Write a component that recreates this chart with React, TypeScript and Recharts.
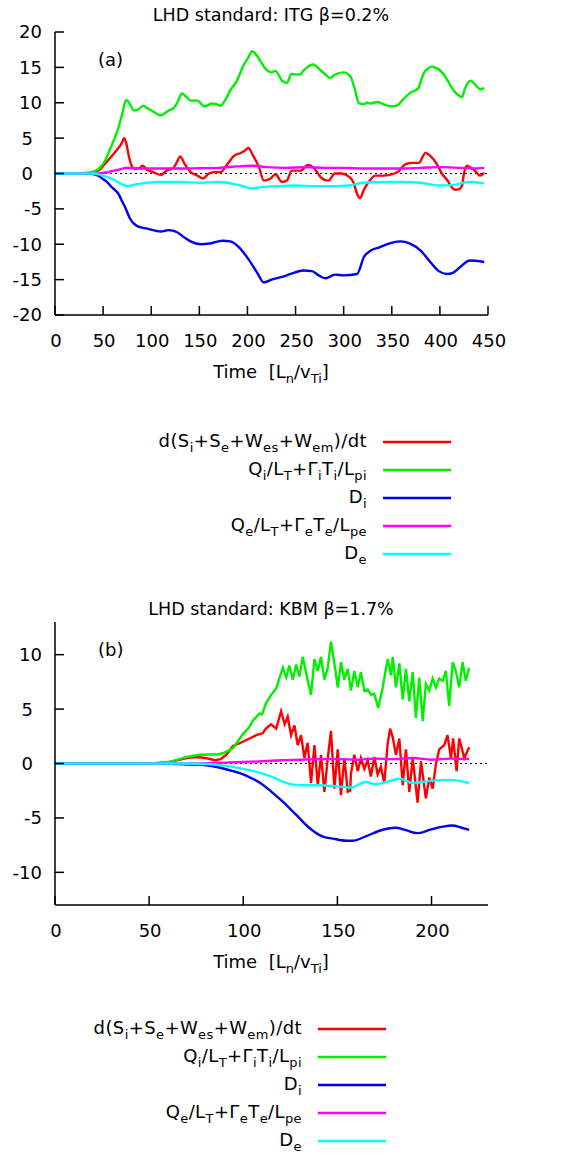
import React from 'react';
import { LineChart, Line, XAxis, YAxis, ReferenceLine } from 'recharts';

const FONT = '"DejaVu Sans", sans-serif';

// ---------- texts ----------
const titleA = 'LHD standard: ITG β=0.2%';
const titleB = 'LHD standard: KBM β=1.7%';
const panelTagA = '(a)';
const panelTagB = '(b)';
const xLabel = 'Time  [L_{n}/v_{Ti}]';
const legendLabels = [
  'd(S_{i}+S_{e}+W_{es}+W_{em})/dt',
  'Q_{i}/L_{T}+Γ_{i}T_{i}/L_{pi}',
  'D_{i}',
  'Q_{e}/L_{T}+Γ_{e}T_{e}/L_{pe}',
  'D_{e}',
];
const seriesColors = ['#ff0000', '#00f000', '#0000f0', '#ff00ff', '#00ffff'];

// ---------- panel (a) axes ----------
const xDomainA = [0, 450];
const yDomainA = [-20, 20];
const xTicksA = [0, 50, 100, 150, 200, 250, 300, 350, 400, 450];
const yTicksA = [-20, -15, -10, -5, 0, 5, 10, 15, 20];

// ---------- panel (a) series ----------
const aRedT = [0, 30, 40, 47, 52, 58, 64, 69, 72, 74, 77, 80, 82, 87, 91, 96, 102, 110, 116, 123, 127, 130, 135, 141, 148, 154, 160, 165, 172, 179, 186, 193, 197, 201, 206, 212, 217, 224, 229, 236, 241, 246, 255, 263, 269, 276, 284, 291, 298, 305, 310, 314, 317, 321, 326, 333, 341, 348, 357, 364, 372, 378, 385, 390, 397, 402, 408, 412, 416, 420, 423, 425, 428, 431, 435, 442, 446];
const aRedV = [0, 0, 0.2, 0.6, 1.4, 2.3, 3.3, 4.2, 5.0, 4.3, 2.3, 1.0, 0.7, 0.7, 1.1, 0.5, 0.2, -0.2, 0.4, 0.8, 1.7, 2.4, 1.3, 0.2, -0.3, -0.7, 0, 0.2, 0.2, 1.3, 2.5, 2.9, 3.2, 3.6, 2.5, 0.9, -1.0, -0.7, -0.1, -1.2, -1.0, 0.4, 0.4, 1.2, 0.8, -0.5, -1.0, 0, 0, -0.4, -1.2, -2.9, -3.5, -2.3, -1.2, -0.3, -0.3, -0.2, 0.3, 1.3, 1.5, 1.5, 2.9, 2.5, 1.3, 0, -1.0, -1.9, -2.3, -2.2, -1.7, 0, 1.1, 0.9, 0.6, -0.3, 0.1];

const aGreenT = [0, 20, 35, 45, 52, 58, 62, 66, 70, 74, 77, 82, 86, 92, 95, 99, 104, 110, 114, 118, 123, 127, 132, 136, 141, 148, 155, 158, 163, 168, 172, 177, 182, 189, 196, 201, 205, 209, 213, 220, 225, 229, 236, 241, 246, 250, 255, 258, 262, 268, 276, 281, 286, 290, 293, 300, 307, 311, 316, 321, 324, 328, 335, 341, 349, 355, 362, 369, 378, 380, 383, 388, 392, 396, 400, 404, 409, 413, 418, 423, 426, 432, 437, 442, 446];
const aGreenV = [0, 0, 0.1, 0.6, 1.8, 3.7, 5.0, 6.5, 8.5, 10.4, 10.0, 8.9, 9.0, 9.6, 9.3, 9.0, 8.6, 8.2, 8.5, 8.9, 9.2, 10.0, 11.3, 10.9, 10.3, 10.3, 9.5, 9.6, 9.9, 9.8, 9.6, 10.4, 11.7, 13.1, 15.3, 16.4, 17.3, 16.8, 16.0, 14.6, 14.3, 14.5, 13.1, 12.8, 14.1, 14.0, 14.0, 14.5, 15.0, 15.4, 14.6, 14.0, 13.5, 13.9, 14.1, 14.3, 13.7, 12.2, 9.9, 9.8, 10.0, 9.9, 10.1, 9.8, 9.5, 9.6, 10.5, 11.4, 12.1, 13.0, 14.1, 14.9, 15.1, 14.9, 14.6, 14.0, 12.9, 12.0, 11.2, 10.8, 12.0, 13.1, 12.5, 11.9, 12.1];

const aBlueT = [0, 35, 45, 50, 54, 58, 62, 66, 70, 73, 78, 85, 96, 110, 118, 127, 134, 141, 151, 161, 174, 182, 191, 201, 210, 217, 225, 236, 245, 258, 267, 274, 281, 291, 300, 314, 321, 328, 338, 347, 359, 369, 380, 390, 399, 407, 414, 423, 431, 446];
const aBlueV = [0, 0, -0.3, -0.8, -1.2, -1.8, -2.3, -2.9, -4.0, -4.8, -6.4, -7.4, -7.8, -8.2, -8.0, -8.3, -9.0, -9.6, -10.0, -9.9, -9.5, -9.6, -10.4, -12.1, -14.0, -15.4, -15.0, -14.6, -14.2, -13.7, -13.8, -14.4, -14.8, -14.3, -14.4, -14.2, -11.8, -10.9, -10.4, -9.9, -9.6, -9.9, -10.9, -12.5, -13.8, -14.2, -14.0, -13.0, -12.3, -12.5];

const aMagentaT = [0, 45, 55, 65, 75, 90, 110, 130, 150, 170, 190, 205, 220, 240, 260, 280, 300, 320, 340, 360, 380, 400, 420, 435, 446];
const aMagentaV = [0, 0, 0.2, 0.5, 0.8, 0.7, 0.7, 0.7, 0.75, 0.8, 1.0, 1.1, 0.9, 0.8, 0.9, 0.8, 0.8, 0.7, 0.7, 0.7, 0.8, 0.9, 0.8, 0.7, 0.8];

const aCyanT = [0, 40, 50, 60, 68, 75, 82, 95, 110, 130, 150, 170, 190, 205, 215, 230, 250, 270, 290, 305, 320, 340, 360, 380, 400, 415, 430, 446];
const aCyanV = [0, 0, -0.3, -0.8, -1.4, -1.8, -1.6, -1.3, -1.2, -1.2, -1.3, -1.2, -1.6, -2.1, -1.9, -1.8, -1.7, -1.8, -1.8, -1.7, -1.3, -1.2, -1.2, -1.3, -1.7, -1.6, -1.2, -1.4];

// ---------- panel (b) axes ----------
const xDomainB = [0, 230];
const yDomainB = [-13, 13];
const xTicksB = [0, 50, 100, 150, 200];
const yTicksB = [-10, -5, 0, 5, 10];

// ---------- panel (b) series ----------
const bRedT = [0, 50, 60, 70, 75, 80, 85, 88, 91, 94.5, 99.8, 103.3, 107, 110.4, 112, 114.8, 117.5, 120.1, 122, 123.6, 125.4, 127.2, 128.9, 130.7, 132.5, 134.2, 136, 137.8, 139.6, 141.3, 143.1, 144.9, 146.6, 148.4, 150.2, 151.9, 153.7, 155.5, 156.8, 157.2, 159, 160.8, 162.5, 164.3, 166.1, 167.8, 169.6, 171.4, 173.1, 174.9, 176.7, 178, 179.4, 181.1, 182.9, 184.7, 186.4, 188.2, 190, 192.6, 194.4, 197, 198.8, 200.6, 202.3, 204.1, 206.8, 208.5, 210.3, 211.5, 213.3, 214.7, 217.4, 220];
const bRedV = [0, 0, 0.1, 0.5, 0.6, 0.5, 0.3, 0.4, 0.8, 1.6, 2.0, 2.3, 2.6, 2.8, 3.2, 3.6, 3.2, 4.8, 3.6, 4.3, 2.6, 3.5, 1.7, 2.6, 0.5, 1.9, -1.8, 1.7, -2.0, 0.8, -2.6, 0.5, 3.0, -2.3, 1.3, -2.9, 0.5, -2.6, -2.5, -0.9, 0.8, -0.7, 0.5, -0.5, 0.3, -1.2, 0.6, -1.0, -0.3, -1.8, 1.8, 3.2, 2.4, 0.8, 2.3, -2.0, 1.3, -2.6, 0.5, -3.6, 0.2, -3.2, -1.3, -2.3, -0.1, 1.3, 1.7, 2.6, 0.5, 2.3, -0.7, 2.3, 0.5, 1.5];

const bGreenT = [0, 50, 55, 62, 70, 77, 87, 90, 94.5, 99.8, 103, 105, 108.6, 110, 112.2, 114.8, 117.5, 121, 122.8, 124.5, 126.3, 128.1, 129.8, 131.6, 133.4, 136, 137.8, 139.6, 141.3, 143.1, 144.9, 146.6, 148.4, 150.2, 151.9, 153.7, 155.5, 157.2, 159, 160.8, 162.5, 164.3, 166.1, 167.8, 169.6, 171.7, 174.1, 176.7, 178.5, 179.4, 181.1, 182.9, 184.7, 186.4, 188.2, 190, 191.7, 193.5, 195.3, 197, 198.8, 200.6, 202.3, 204.1, 205.9, 207.6, 209.4, 211.2, 212.9, 214.7, 216.5, 218.2, 220];
const bGreenV = [0, 0, 0.05, 0.2, 0.6, 0.8, 0.85, 1.0, 1.4, 2.7, 3.3, 3.9, 4.6, 4.5, 5.6, 6.3, 6.9, 8.8, 7.9, 9.0, 7.7, 9.1, 8.0, 9.8, 8.3, 6.3, 9.6, 8.5, 9.8, 7.7, 8.8, 11.2, 9.2, 7.0, 9.3, 7.7, 8.7, 6.7, 8.5, 7.0, 8.4, 6.7, 6.8, 6.3, 6.4, 5.1, 7.0, 9.6, 8.1, 9.8, 7.0, 9.2, 5.9, 8.7, 5.7, 8.4, 4.2, 7.9, 3.9, 7.3, 6.7, 7.8, 7.0, 7.8, 7.6, 8.5, 5.3, 9.3, 8.5, 7.0, 9.3, 7.6, 8.8];

const bBlueT = [0, 55, 65, 75, 84, 94.5, 100, 105, 110, 115, 121, 128, 135, 142, 147.5, 155, 158, 165, 172, 181, 186, 192.5, 199, 206, 211, 216, 220];
const bBlueV = [0, 0, -0.05, -0.1, -0.25, -0.7, -1.0, -1.4, -1.9, -2.6, -3.5, -4.7, -5.9, -6.7, -6.9, -7.1, -7.1, -6.7, -6.2, -5.9, -6.1, -6.4, -6.1, -5.8, -5.7, -5.9, -6.1];

const bMagentaT = [0, 70, 85, 100, 110, 120, 130, 140, 150, 160, 170, 180, 190, 200, 210, 220];
const bMagentaV = [0, 0, 0.05, 0.15, 0.2, 0.3, 0.35, 0.4, 0.4, 0.35, 0.45, 0.4, 0.5, 0.35, 0.45, 0.4];

const bCyanT = [0, 70, 80, 90, 100, 110, 115, 120, 125, 130, 140, 150, 157, 165, 170, 178, 183, 190, 200, 210, 220];
const bCyanV = [0, 0, -0.05, -0.2, -0.5, -0.9, -1.2, -1.6, -1.9, -2.0, -2.0, -2.1, -2.2, -1.7, -1.9, -1.6, -1.4, -1.8, -1.6, -1.5, -1.8];

// ---------- helpers ----------
const zip = (ts: number[], vs: number[]) => ts.map((t, i) => ({ t, v: vs[i] }));

type Seg = { text: string; sub: boolean };
function parseRich(s: string): Seg[] {
  const out: Seg[] = [];
  const re = /_\{([^}]*)\}/g;
  let last = 0;
  let m: RegExpExecArray | null;
  while ((m = re.exec(s)) !== null) {
    if (m.index > last) out.push({ text: s.slice(last, m.index), sub: false });
    out.push({ text: m[1], sub: true });
    last = m.index + m[0].length;
  }
  if (last < s.length) out.push({ text: s.slice(last), sub: false });
  return out;
}

function RichText(props: { x: number; y: number; text: string; size: number; anchor: 'start' | 'middle' | 'end'; spacing?: number }) {
  const segs = parseRich(props.text);
  const subSize = Math.round(props.size * 0.74);
  const drop = Math.round(props.size * 0.3);
  let cur = 0;
  return (
    <text
      x={props.x}
      y={props.y}
      textAnchor={props.anchor}
      fontFamily={FONT}
      fontSize={props.size}
      fill="#000"
      letterSpacing={props.spacing || 0}
      style={{ whiteSpace: 'pre' }}
    >
      {segs.map((sg, i) => {
        const target = sg.sub ? drop : 0;
        const dy = target - cur;
        cur = target;
        return (
          <tspan key={i} dy={dy} fontSize={sg.sub ? subSize : props.size}>
            {sg.text}
          </tspan>
        );
      })}
    </text>
  );
}

const TICK = 9;
const TICK_FONT = 18;

function LeftTick(p: any) {
  const s = String(p.payload.value);
  const tx = s.length === 1 ? p.x - 22 : p.x - 13;
  return (
    <g>
      <line x1={p.x} x2={p.x + TICK} y1={p.y} y2={p.y} stroke="#000" strokeWidth={1.5} />
      <text x={tx} y={p.y} dy="0.36em" textAnchor="end" fontFamily={FONT} fontSize={TICK_FONT} fill="#000">
        {s}
      </text>
    </g>
  );
}
function RightTick(p: any) {
  return <line x1={p.x - TICK} x2={p.x} y1={p.y} y2={p.y} stroke="#000" strokeWidth={1.5} />;
}
function BottomTick(p: any) {
  return (
    <g>
      <line x1={p.x} x2={p.x} y1={p.y - TICK} y2={p.y} stroke="#000" strokeWidth={1.5} />
      <text x={p.x + 1} y={p.y + 32} textAnchor="middle" fontFamily={FONT} fontSize={TICK_FONT} fill="#000">
        {String(p.payload.value)}
      </text>
    </g>
  );
}
function TopTick(p: any) {
  return <line x1={p.x} x2={p.x} y1={p.y} y2={p.y + TICK} stroke="#000" strokeWidth={1.5} />;
}

type Series = { data: { t: number; v: number }[]; color: string; curve: 'monotone' | 'linear' };

function Panel(props: { series: Series[]; xDomain: number[]; yDomain: number[]; xTicks: number[]; yTicks: number[] }) {
  const axisLine = { stroke: '#000', strokeWidth: 1.5 };
  return (
    <LineChart width={567} height={390} margin={{ top: 32, right: 79, bottom: 35, left: 0 }}>
      <ReferenceLine y={0} stroke="#000" strokeWidth={1} strokeDasharray="2 3" />
      <XAxis
        dataKey="t"
        type="number"
        domain={props.xDomain}
        ticks={props.xTicks}
        interval={0}
        allowDataOverflow
        height={40}
        tickSize={0}
        tickMargin={0}
        tickLine={false}
        axisLine={axisLine}
        tick={(p: any) => <BottomTick {...p} />}
      />
      <XAxis
        xAxisId="top"
        orientation="top"
        dataKey="t"
        type="number"
        domain={props.xDomain}
        ticks={props.xTicks}
        interval={0}
        allowDataOverflow
        height={0}
        tickSize={0}
        tickMargin={0}
        tickLine={false}
        axisLine={axisLine}
        tick={(p: any) => <TopTick {...p} />}
      />
      <YAxis
        type="number"
        domain={props.yDomain}
        ticks={props.yTicks}
        interval={0}
        allowDataOverflow
        width={55}
        tickSize={0}
        tickMargin={0}
        tickLine={false}
        axisLine={axisLine}
        tick={(p: any) => <LeftTick {...p} />}
      />
      <YAxis
        yAxisId="right"
        orientation="right"
        type="number"
        domain={props.yDomain}
        ticks={props.yTicks}
        interval={0}
        allowDataOverflow
        width={0}
        tickSize={0}
        tickMargin={0}
        tickLine={false}
        axisLine={axisLine}
        tick={(p: any) => <RightTick {...p} />}
      />
      {props.series.map((s, i) => (
        <Line
          key={i}
          data={s.data}
          dataKey="v"
          type={s.curve}
          stroke={s.color}
          strokeWidth={2.4}
          dot={false}
          activeDot={false}
          isAnimationActive={false}
        />
      ))}
    </LineChart>
  );
}

function Legend(props: { right: number; lineX1: number; lineX2: number; y0: number }) {
  return (
    <g>
      {legendLabels.map((lab, i) => {
        const y = props.y0 + i * 28;
        return (
          <g key={i}>
            <RichText x={props.right} y={y + 5} text={lab} size={18} anchor="end" spacing={0.4} />
            <line x1={props.lineX1} x2={props.lineX2} y1={y} y2={y} stroke={seriesColors[i]} strokeWidth={2.6} />
          </g>
        );
      })}
    </g>
  );
}

export default function App() {
  const seriesA: Series[] = [
    { data: zip(aRedT, aRedV), color: seriesColors[0], curve: 'monotone' },
    { data: zip(aGreenT, aGreenV), color: seriesColors[1], curve: 'monotone' },
    { data: zip(aBlueT, aBlueV), color: seriesColors[2], curve: 'monotone' },
    { data: zip(aMagentaT, aMagentaV), color: seriesColors[3], curve: 'monotone' },
    { data: zip(aCyanT, aCyanV), color: seriesColors[4], curve: 'monotone' },
  ];
  const seriesB: Series[] = [
    { data: zip(bRedT, bRedV), color: seriesColors[0], curve: 'linear' },
    { data: zip(bGreenT, bGreenV), color: seriesColors[1], curve: 'linear' },
    { data: zip(bBlueT, bBlueV), color: seriesColors[2], curve: 'monotone' },
    { data: zip(bMagentaT, bMagentaV), color: seriesColors[3], curve: 'monotone' },
    { data: zip(bCyanT, bCyanV), color: seriesColors[4], curve: 'monotone' },
  ];
  return (
    <div style={{ position: 'absolute', left: 0, top: 0, width: 567, height: 1156, background: '#fff', overflow: 'hidden' }}>
      <div style={{ position: 'absolute', left: 0, top: 0 }}>
        <Panel series={seriesA} xDomain={xDomainA} yDomain={yDomainA} xTicks={xTicksA} yTicks={yTicksA} />
      </div>
      <div style={{ position: 'absolute', left: 0, top: 590 }}>
        <Panel series={seriesB} xDomain={xDomainB} yDomain={yDomainB} xTicks={xTicksB} yTicks={yTicksB} />
      </div>
      <svg width={567} height={1156} style={{ position: 'absolute', left: 0, top: 0, pointerEvents: 'none' }}>
        <text x={271} y={21} textAnchor="middle" fontFamily={FONT} fontSize={17.5} fill="#000">{titleA}</text>
        <text x={98} y={66} fontFamily={FONT} fontSize={18} fill="#000">{panelTagA}</text>
        <RichText x={271} y={378} text={xLabel} size={18} anchor="middle" />
        <Legend right={367} lineX1={383} lineX2={451} y0={442} />

        <text x={271} y={615} textAnchor="middle" fontFamily={FONT} fontSize={17.5} fill="#000">{titleB}</text>
        <text x={98} y={656} fontFamily={FONT} fontSize={18} fill="#000">{panelTagB}</text>
        <RichText x={271} y={968} text={xLabel} size={18} anchor="middle" />
        <Legend right={302} lineX1={318} lineX2={386} y0={1029} />
      </svg>
    </div>
  );
}
